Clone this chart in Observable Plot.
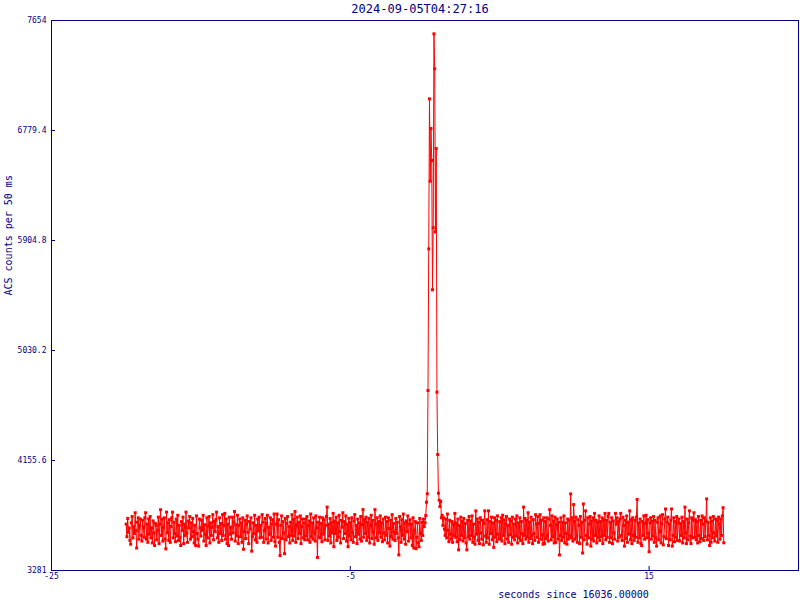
<!DOCTYPE html>
<html>
<head>
<meta charset="utf-8">
<script src="https://cdn.jsdelivr.net/npm/d3@7"></script>
<script src="https://cdn.jsdelivr.net/npm/@observablehq/plot@0.6"></script>
<style>
  html, body { margin: 0; padding: 0; background: #fff; }
  #chart svg { display: block; }
</style>
</head>
<body>
<div id="chart"></div>
<script>
const title = "2024-09-05T04:27:16";
const xLabel = "seconds since 16036.00000";
const yLabel = "ACS counts per 50 ms";
const xTicks = [-25, -5, 15];
const yTicks = [3281, 4155.6, 5030.2, 5904.8, 6779.4, 7654];
const xDomain = [-25, 25];
const yDomain = [3281, 7654];
const binStart = -20;   // seconds, first 50 ms bin
const binWidth = 0.05;  // seconds

// counts per 50 ms, t = -20.00 ... -0.05
const countsPre = [
3650,3550,3695,3585,3620,3520,3490,3660,3710,3540,3630,3575,3740,3600,3460,3665,3700,3530,3640,3690,
3560,3515,3680,3625,3545,3700,3740,3530,3650,3505,3690,3570,3710,3540,3620,3500,3675,3580,3480,3655,
3640,3525,3600,3705,3495,3650,3764,3560,3690,3515,3625,3700,3530,3453,3745,3580,3660,3520,3685,3505,
3630,3700,3745,3540,3665,3575,3510,3690,3555,3720,3520,3640,3545,3480,3670,3600,3705,3495,3650,3560,
3745,3580,3505,3675,3620,3710,3530,3660,3550,3695,3590,3500,3640,3480,3715,3575,3530,3475,3690,3620,
3555,3680,3600,3720,3515,3645,3570,3480,3700,3540,3635,3710,3500,3660,3560,3625,3725,3525,3670,3590,
3685,3745,3540,3630,3505,3700,3575,3655,3520,3725,3560,3640,3735,3530,3690,3495,3650,3480,3705,3570,
3625,3530,3705,3580,3665,3750,3515,3645,3555,3720,3495,3640,3690,3550,3660,3505,3700,3450,3590,3680,
3535,3650,3715,3585,3495,3670,3610,3700,3435,3550,3660,3575,3720,3525,3640,3505,3690,3595,3705,3540,
3640,3545,3725,3665,3505,3600,3695,3530,3655,3720,3500,3625,3570,3700,3520,3650,3685,3545,3730,3510,
3475,3650,3730,3545,3685,3505,3400,3640,3715,3535,3670,3580,3415,3695,3525,3655,3710,3550,3630,3500,
3665,3560,3725,3520,3690,3555,3750,3505,3645,3705,3535,3665,3575,3715,3495,3630,3690,3540,3660,3525,
3690,3555,3710,3525,3640,3675,3505,3730,3550,3660,3530,3700,3580,3515,3715,3620,3385,3665,3545,3705,
3540,3655,3510,3700,3570,3685,3525,3640,3710,3785,3520,3650,3555,3695,3500,3665,3580,3735,3470,3675,
3575,3705,3520,3660,3545,3720,3590,3500,3680,3625,3740,3535,3670,3575,3715,3515,3650,3470,3695,3555,
3665,3525,3700,3580,3505,3675,3725,3550,3640,3495,3690,3570,3660,3530,3710,3515,3645,3765,3545,3685,
3575,3705,3520,3665,3545,3695,3500,3640,3720,3535,3680,3590,3490,3765,3650,3540,3700,3520,3670,3580,
3715,3545,3660,3510,3690,3580,3525,3705,3560,3670,3500,3700,3615,3475,3680,3550,3725,3530,3655,3585,
3520,3695,3575,3665,3540,3405,3710,3630,3505,3685,3560,3730,3530,3660,3490,3675,3590,3715,3515,3650,
3685,3540,3650,3480,3700,3460,3600,3670,3455,3545,3660,3500,3470,3695,3575,3520,3665,3560,3690,3630
];

// burst, t = 0.00 ... 1.10
const countsBurst = [
3660,3718,3824,3891,4712,5838,7031,6376,6795,6541,5513,6006,
7548,7270,5974,6636,4699,4203,3896,3840,3790,3830,3700
];

// t = 1.15 ... 20.00
const countsPost = [
3720,3640,3700,3610,3560,3690,3540,3730,3600,3510,3680,3570,3530,3670,3505,3650,3560,
3735,3545,3660,3510,3690,3445,3640,3525,3705,3560,3670,3515,3695,3540,3655,3500,3445,3680,3550,3710,
3530,3675,3560,3715,3505,3650,3545,3490,3755,3570,3690,3520,3665,3495,3700,3580,3530,3680,3485,3655,
3755,3555,3505,3685,3540,3755,3490,3670,3575,3705,3525,3660,3465,3700,3545,3680,3510,3715,3570,3530,
3670,3535,3700,3515,3720,3560,3685,3495,3650,3710,3530,3640,3505,3690,3565,3675,3490,3705,3545,3650,
3525,3690,3555,3715,3500,3660,3540,3700,3520,3670,3575,3495,3785,3560,3695,3530,3680,3550,3740,3505,
3665,3535,3705,3560,3495,3685,3575,3520,3725,3650,3545,3710,3505,3655,3725,3530,3680,3565,3490,3700,
3495,3670,3535,3700,3560,3515,3690,3765,3640,3525,3715,3550,3675,3500,3705,3505,3645,3690,3530,3665,
3405,3560,3700,3520,3665,3545,3715,3500,3660,3575,3490,3690,3530,3680,3555,3890,3540,3700,3515,3805,
3670,3530,3705,3555,3505,3685,3640,3495,3710,3545,3665,3420,3810,3525,3680,3755,3560,3490,3700,3540,
3650,3710,3475,3675,3530,3700,3515,3735,3560,3680,3500,3665,3545,3715,3520,3670,3550,3700,3495,3685,
3560,3735,3525,3680,3545,3710,3735,3505,3665,3540,3700,3495,3675,3580,3530,3735,3650,3700,3515,3670,
3545,3690,3735,3560,3520,3705,3640,3475,3680,3535,3715,3505,3665,3570,3755,3525,3685,3495,3700,3560,
3520,3680,3545,3705,3845,3505,3660,3540,3690,3495,3480,3670,3560,3715,3530,3655,3720,3540,3685,3575,
3430,3660,3700,3530,3675,3555,3710,3505,3680,3540,3475,3665,3700,3525,3590,3715,3500,3655,3725,3485,
3550,3690,3770,3535,3665,3705,3480,3650,3525,3680,3770,3475,3560,3700,3510,3670,3545,3710,3520,3660,
3690,3515,3655,3560,3705,3500,3670,3540,3785,3580,3495,3690,3525,3660,3755,3555,3495,3700,3540,3680,
3740,3545,3685,3525,3670,3500,3710,3560,3510,3680,3535,3715,3650,3520,3700,3550,3675,3850,3525,3665,
3560,3480,3700,3505,3675,3540,3710,3580,3515,3690,3555,3680,3505,3705,3650,3530,3690,3560,3715,3780,
3501
];

const counts = countsPre.concat(countsBurst, countsPost);
const data = counts.map((c, i) => ({t: binStart + i * binWidth, c}));

const navy = "#000080";
const red = "#ff0000";
const mono = "'DejaVu Sans Mono', 'Liberation Mono', monospace";

const chart = Plot.plot({
  width: 800,
  height: 600,
  marginLeft: 51,
  marginRight: 2,
  marginTop: 20,
  marginBottom: 30,
  style: {fontFamily: mono, background: "#fff", color: navy},
  x: {domain: xDomain, label: null},
  y: {domain: yDomain, label: null},
  marks: [
    Plot.line(data, {x: "t", y: "c", stroke: red, strokeWidth: 1}),
    Plot.dot(data, {x: "t", y: "c", symbol: "square", r: 1.7, fill: red, stroke: "none"}),
    Plot.frame({stroke: navy, strokeWidth: 1}),
    Plot.axisY({ticks: yTicks, tickFormat: d => String(d), tickSize: 4, dx: 4, tickPadding: 5,
      stroke: navy, fill: navy, fontSize: 8, label: null}),
    Plot.axisX({ticks: xTicks, tickFormat: d => String(d), tickSize: 4, dy: -4, tickPadding: 3,
      stroke: navy, fill: navy, fontSize: 8, label: null}),
    Plot.text([title], {frameAnchor: "top", dy: -11, dx: -5, lineAnchor: "middle",
      fill: navy, fontSize: 12, fontFamily: mono}),
    Plot.text([xLabel], {frameAnchor: "bottom", dy: 24, dx: 148.5, lineAnchor: "middle",
      fill: navy, fontSize: 10, fontFamily: mono}),
    Plot.text([yLabel], {frameAnchor: "left", dx: -43, rotate: -90, lineAnchor: "middle",
      fill: navy, fontSize: 10, fontFamily: mono})
  ]
});
document.getElementById("chart").appendChild(chart);
</script>
</body>
</html>
